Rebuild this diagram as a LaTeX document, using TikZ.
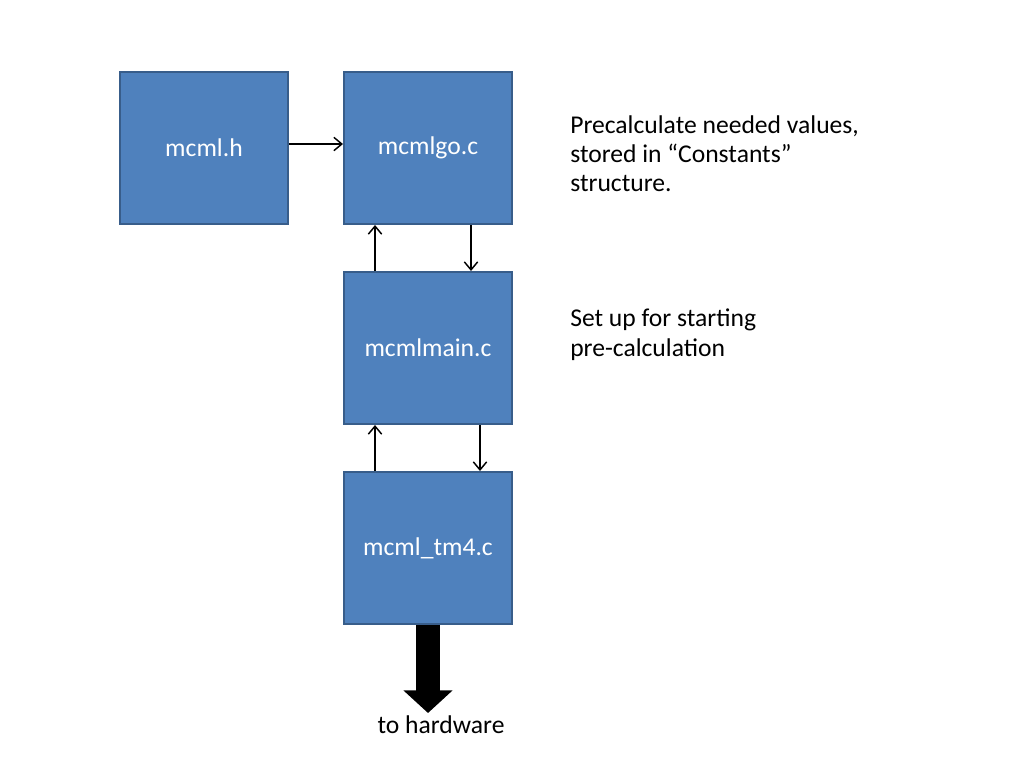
\documentclass[tikz,border=0pt]{standalone}
\usepackage{fontspec}
\setmainfont{Carlito}
\usetikzlibrary{arrows.meta}
\definecolor{boxfill}{HTML}{4F81BD}
\definecolor{boxline}{HTML}{385D8A}
\begin{document}
\begin{tikzpicture}[x=0.75pt,y=-0.75pt,
  filebox/.style={draw=boxline,line width=1.5pt,fill=boxfill,minimum width=126pt,minimum height=114pt,
    text=white,font=\fontsize{19.2}{23}\selectfont,inner sep=0pt},
  arr/.style={draw=black,line width=1.1pt,-{Straight Barb[length=6pt,width=10pt,line width=1.1pt]}},
  note/.style={anchor=north west,align=left,inner sep=0pt,font=\fontsize{19.2}{22}\selectfont}]
\useasboundingbox (0,0) rectangle (1024,768);
\node[filebox] (h) at (204,148) {mcml.h};
\node[filebox] (go) at (428,148) {mcmlgo.c};
\node[filebox] (main) at (428,348) {mcmlmain.c};
\node[filebox] (tm) at (428,548) {mcml\_tm4.c};
\draw[arr] ([yshift=3pt]h.east) -- ([yshift=3pt]go.west);
\draw[arr] ([xshift=24pt]main.north west) -- ([xshift=24pt]go.south west);
\draw[arr] ([xshift=96pt]go.south west) -- ([xshift=96pt]main.north west);
\draw[arr] ([xshift=24pt]tm.north west) -- ([xshift=24pt]main.south west);
\draw[arr] ([xshift=102.75pt]main.south west) -- ([xshift=102.75pt]tm.north west);
\coordinate (tip) at (428,713);
\draw[line width=18pt,-{Triangle[length=17pt,width=36pt]}] (tm.south) -- (tip);
\node[font=\fontsize{19.2}{23}\selectfont] (hw) at (441,725) {to hardware};
\node[note] (n1) at (570,115) {Precalculate needed values,\\stored in “Constants”\\structure.};
\node[note] (n2) at (570,309) {Set up for starting\\pre-calculation};
\end{tikzpicture}
\end{document}
